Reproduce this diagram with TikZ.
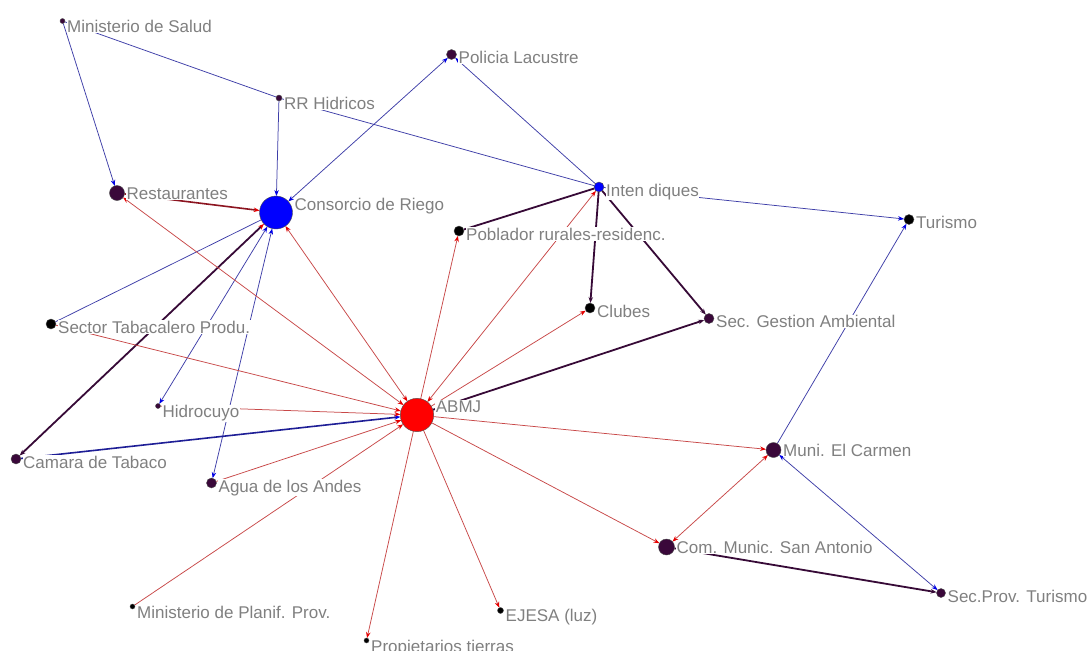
\documentclass[tikz,border=0pt]{standalone}
\usepackage{fontspec}
\setmainfont{Liberation Sans}
\usetikzlibrary{arrows.meta,calc}
\definecolor{dotP}{RGB}{58,8,58}
\definecolor{nBlue}{RGB}{0,0,255}
\definecolor{nRed}{RGB}{255,0,0}
\definecolor{lnB}{RGB}{62,62,168}
\definecolor{lnR}{RGB}{200,72,72}
\definecolor{lnD}{RGB}{55,10,55}
\definecolor{lnM}{RGB}{140,20,32}
\definecolor{lnN}{RGB}{30,30,150}
\definecolor{arB}{RGB}{0,0,230}
\definecolor{arR}{RGB}{230,0,0}
\definecolor{labG}{RGB}{128,128,128}
\pgfdeclarelayer{bg}
\pgfsetlayers{bg,main}
\tikzset{
  dot/.style={circle, draw=black!70, line width=0.4pt, inner sep=0pt, outer sep=0pt},
  lab/.style={anchor=base west, fill=white, inner sep=0.5pt, text=labG, font=\fontsize{17}{18}\selectfont},
  eB/.style={draw=lnB, line width=0.75pt},
  eR/.style={draw=lnR, line width=0.75pt},
  eD/.style={draw=lnD, line width=1.8pt},
  eM/.style={draw=lnM, line width=1.6pt},
  eN/.style={draw=lnN, line width=1.6pt},
  tipB/.tip={Stealth[length=6pt,width=4.5pt,color=arB]},
  tipR/.tip={Stealth[length=6pt,width=4.5pt,color=arR]},
  tipD/.tip={Stealth[length=6pt,width=4.5pt,color=lnD]},
}
\newcommand\gnode[6]{%
  \node[dot, minimum size=#4*2pt, fill=#5] (#1) at (#2,#3) {};
  \node[lab] (#1-l) at ($(#2,#3)+(#4+1.5,-#4+14)$) {#6};}
\begin{document}
\begin{tikzpicture}[x=1pt,y=-1pt]
\useasboundingbox (0,0) rectangle (1088,651);
\gnode{minsal}{62.5}{21}{2.5}{dotP}{Ministerio de Salud}
\gnode{rrh}{279}{98}{3}{dotP}{RR Hidricos}
\gnode{pol}{451.5}{54.5}{5}{dotP}{Policia Lacustre}
\gnode{rest}{117}{193}{7.5}{dotP}{Restaurantes}
\gnode{cons}{276}{212.5}{16.5}{nBlue}{Consorcio de Riego}
\gnode{inten}{599}{187}{5}{nBlue}{Inten diques}
\gnode{tur}{909}{219.5}{5}{black}{Turismo}
\gnode{pob}{459}{231}{5}{black}{Poblador rurales-residenc.}
\gnode{clubes}{590}{308}{5}{black}{Clubes}
\gnode{secga}{709}{318.5}{5}{dotP}{Sec. Gestion Ambiental}
\gnode{sectab}{51}{324}{5}{black}{Sector Tabacalero Produ.}
\gnode{hidro}{158}{406}{2.5}{dotP}{Hidrocuyo}
\gnode{abmj}{417}{415}{16.7}{nRed}{ABMJ}
\gnode{camara}{16}{459}{5}{dotP}{Camara de Tabaco}
\gnode{agua}{211.5}{483}{5}{dotP}{Agua de los Andes}
\gnode{muni}{773.5}{450}{7.5}{dotP}{Muni. El Carmen}
\gnode{com}{666.5}{547}{8}{dotP}{Com. Munic. San Antonio}
\gnode{secprov}{941}{593}{4.5}{dotP}{Sec.Prov. Turismo}
\gnode{minplan}{132.5}{606.5}{2.5}{black}{Ministerio de Planif. Prov.}
\gnode{ejesa}{500.5}{610.5}{3}{black}{EJESA (luz)}
\gnode{prop}{366.5}{640.5}{2.5}{black}{Propietarios tierras}
\begin{pgfonlayer}{bg}
\fill[white] (0,0) rectangle (1088,651);
\draw[eB,-tipB] (minsal) -- (rest);
\draw[eB] (minsal) -- (rrh);
\draw[eB,-tipB] (rrh) -- (cons);
\draw[eB] (rrh) -- (inten);
\draw[eB,tipB-tipB] (cons) -- (pol);
\draw[eB,-tipB] (inten) -- (pol);
\draw[eB,-tipB] (inten) -- (tur);
\draw[eB,-tipB] (muni) -- (tur);
\draw[eB,tipB-tipB] (muni) -- (secprov);
\draw[eB] (sectab) -- (cons);
\draw[eB,tipB-tipB] (cons) -- (hidro);
\draw[eB,tipB-tipB] (cons) -- (agua);
\draw[eD,tipR-tipD] (cons) -- (camara);
\draw[eN,-tipB] (camara) -- (abmj);
\draw[eM,-tipR] (rest) -- (cons);
\draw[eR,tipR-tipR] (abmj) -- (rest);
\draw[eR,tipR-tipR] (abmj) -- (cons);
\draw[eR,-tipR] (abmj) -- (pob);
\draw[eR,tipR-tipR] (abmj) -- (inten);
\draw[eR,-tipR] (abmj) -- (clubes);
\draw[eR,-tipR] (sectab) -- (abmj);
\draw[eR,-tipR] (hidro) -- (abmj);
\draw[eR,-tipR] (agua) -- (abmj);
\draw[eR,-tipR] (minplan) -- (abmj);
\draw[eR,-tipR] (abmj) -- (prop);
\draw[eR,-tipR] (abmj) -- (ejesa);
\draw[eR,-tipR] (abmj) -- (com);
\draw[eR,-tipR] (abmj) -- (muni);
\draw[eR,tipR-tipR] (com) -- (muni);
\draw[eD,-tipD] (abmj) -- (secga);
\draw[eD] (pob) -- (inten);
\draw[eD,-tipD] (inten) -- (clubes);
\draw[eD,-tipD] (inten) -- (secga);
\draw[eD,-tipD] (com) -- (secprov);
\end{pgfonlayer}
\end{tikzpicture}
\end{document}
